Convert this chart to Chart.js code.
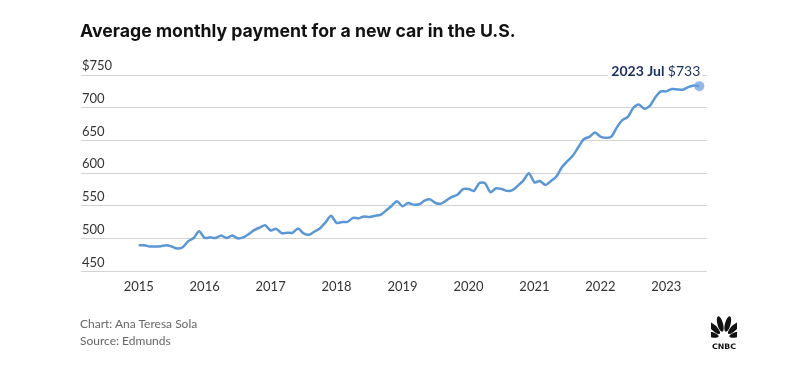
<!DOCTYPE html>
<html>
<head>
<meta charset="utf-8">
<script src="https://cdn.jsdelivr.net/npm/chart.js@4.4.0/dist/chart.umd.min.js"></script>
<style>
  html, body { margin: 0; padding: 0; background: #fff; }
  #wrap { position: relative; width: 794px; height: 382px; overflow: hidden; }
  #myChart { position: absolute; left: 0; top: 0; }
  .title { position: absolute; left: 80px; top: 20px; font: 700 17.7px "Inter", "Lato", sans-serif; color: #111; }
  .foot { position: absolute; left: 80px; font: 400 12px "Lato", "Inter", sans-serif; color: #666; }
  #logo { position: absolute; left: 711px; top: 316px; }
</style>
</head>
<body>
<div id="wrap">
  <canvas id="myChart" width="794" height="382"></canvas>
  <div class="title">Average monthly payment for a new car in the U.S.</div>
  <div class="foot" style="top:316px">Chart: Ana Teresa Sola</div>
  <div class="foot" style="top:333px">Source: Edmunds</div>
  <svg id="logo" width="26" height="36" viewBox="0 0 26 36">
    <g fill="#111">
      <ellipse cx="13" cy="9" rx="2.6" ry="7.5" transform="rotate(-75 13 22)"/>
      <ellipse cx="13" cy="8" rx="2.8" ry="8" transform="rotate(-45 13 22)"/>
      <ellipse cx="13" cy="7.5" rx="2.8" ry="8" transform="rotate(-15 13 22)"/>
      <ellipse cx="13" cy="7.5" rx="2.8" ry="8" transform="rotate(15 13 22)"/>
      <ellipse cx="13" cy="8" rx="2.8" ry="8" transform="rotate(45 13 22)"/>
      <ellipse cx="13" cy="9" rx="2.6" ry="7.5" transform="rotate(75 13 22)"/>
    </g>
    <text x="13" y="33" text-anchor="middle" font-family="DejaVu Sans" font-weight="700" font-size="7.5" fill="#111" textLength="24" lengthAdjust="spacingAndGlyphs">CNBC</text>
  </svg>
</div>
<script>
// month index 0 = Jan 2015, last = Jul 2023
const years = ['2015', '2016', '2017', '2018', '2019', '2020', '2021', '2022', '2023'];
const months = ['Jan', 'Feb', 'Mar', 'Apr', 'May', 'Jun', 'Jul', 'Aug', 'Sep', 'Oct', 'Nov', 'Dec'];
const payments = [
  490, 490, 488, 488, 488.5, 490, 488, 485, 487, 496, 501, 511.5,   // 2015
  501, 502, 501, 505, 501, 505, 500.5, 502, 507, 513, 517, 520.5,   // 2016
  512.5, 515, 508.5, 509, 509, 515.5, 508, 506, 511, 516, 525, 535, // 2017
  524, 525.5, 525.7, 531.8, 531, 534, 533, 535, 536.5, 543, 550, 557, // 2018
  549.5, 554.5, 552, 552.5, 558, 560, 554.5, 553.5, 558.5, 564, 567, 575.7, // 2019
  575.7, 573, 585, 584.8, 571, 577, 576, 573, 574, 581, 589, 600,   // 2020
  586, 588, 582, 588, 595, 609, 618.5, 627, 640, 652, 655.5, 662,   // 2021
  656, 654, 656, 670, 681, 686, 700, 705, 698.5, 703, 716, 725,     // 2022
  725, 728.5, 728, 727.5, 731.5, 734, 733                          // 2023
];
const yTicks = [450, 500, 550, 600, 650, 700, 750];

const points = payments.map((v, i) => ({ x: i, y: v }));
const last = points.length - 1;

const endLabel = {
  id: 'endLabel',
  afterDatasetsDraw(chart) {
    const ctx = chart.ctx;
    const xs = chart.scales.x, ys = chart.scales.y;
    const px = xs.getPixelForValue(last);
    const py = ys.getPixelForValue(payments[last]);
    ctx.save();
    ctx.fillStyle = 'rgba(110,160,220,0.75)';
    ctx.beginPath();
    ctx.arc(px, py, 5, 0, Math.PI * 2);
    ctx.fill();
    const yr = years[Math.floor(last / 12)] + ' ' + months[last % 12] + ' ';
    const val = '$' + payments[last];
    ctx.textBaseline = 'alphabetic';
    ctx.font = '400 14px Lato, Inter, sans-serif';
    const w2 = ctx.measureText(val).width;
    ctx.font = '700 14px Lato, Inter, sans-serif';
    const w1 = ctx.measureText(yr).width;
    const right = px + 1;
    const base = py - 10;
    // white backing so the gridline doesn't run through the text
    ctx.fillStyle = '#fff';
    ctx.fillRect(right - w1 - w2 - 3, base - 11, w1 + w2 + 5, 14);
    ctx.fillStyle = '#1b2f5e';
    ctx.fillText(yr, right - w1 - w2, base);
    ctx.font = '400 14px Lato, Inter, sans-serif';
    ctx.fillText(val, right - w2, base);
    ctx.restore();
  }
};

const ctx = document.getElementById('myChart').getContext('2d');
const myChart = new Chart(ctx, {
  type: 'line',
  data: {
    datasets: [{
      data: points,
      borderColor: '#5b96d5',
      borderWidth: 2.5,
      pointRadius: 0,
      tension: 0.25,
      fill: false
    }]
  },
  options: {
    responsive: false,
    animation: false,
    layout: { padding: { left: 79, right: 87, top: 75, bottom: 87 } },
    plugins: { legend: { display: false }, tooltip: { enabled: false } },
    scales: {
      x: {
        type: 'linear',
        min: -10.5,
        max: 103.4,
        grid: { display: false },
        border: { display: false },
        afterBuildTicks(axis) {
          axis.ticks = years.map((y, i) => ({ value: i * 12 }));
        },
        ticks: {
          padding: 0,
          color: '#333',
          font: { family: 'Lato, Inter, sans-serif', size: 13 },
          callback: (v) => years[v / 12]
        }
      },
      y: {
        min: 450,
        max: 750,
        afterBuildTicks(axis) {
          axis.ticks = yTicks.map(v => ({ value: v }));
        },
        grid: { color: '#d4d4d4', lineWidth: 1, drawTicks: false },
        border: { display: false },
        ticks: {
          mirror: true,
          padding: 1,
          labelOffset: -9,
          color: '#333',
          font: { family: 'Lato, Inter, sans-serif', size: 13 },
          callback: (v) => v === 750 ? '$750' : String(v)
        }
      }
    }
  },
  plugins: [endLabel]
});
</script>
</body>
</html>
